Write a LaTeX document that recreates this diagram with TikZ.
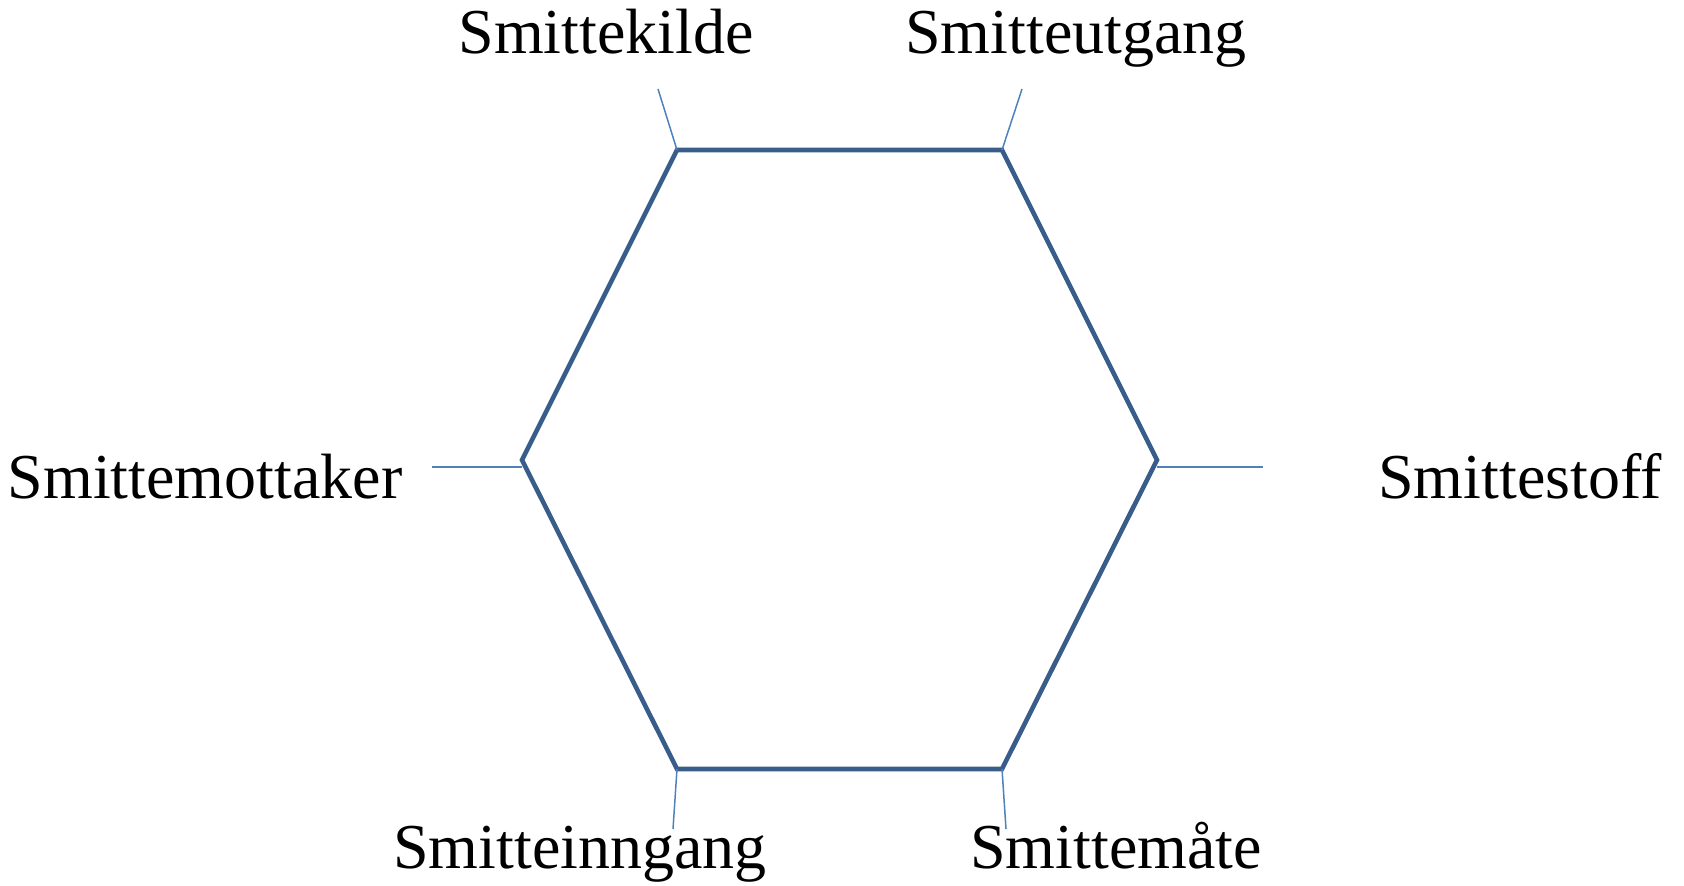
\documentclass[tikz,border=0pt]{standalone}
\usepackage{fontspec}
\setmainfont{Liberation Serif}
\usepackage{xcolor}
\usepackage{tikz}
\usetikzlibrary{
  positioning,
  calc,
}
\definecolor{hexink}{HTML}{385D8A}
\definecolor{leadink}{HTML}{4F81BD}
\definecolor{textink}{HTML}{000000}
\tikzset{
  hexline/.style={draw=hexink, line width=2.3pt, line join=miter},
  leader/.style={draw=leadink, line width=0.75pt},
  stage/.style={font=\fontsize{32}{38}\selectfont, text=textink, anchor=base, inner sep=0pt},
}

\begin{document}
\begin{tikzpicture}[x=0.5pt,y=-0.5pt]
  \useasboundingbox (0,0) rectangle (1684,886);

  % hexagon corners
  \coordinate (tl) at (677,150);
  \coordinate (tr) at (1002,150);
  \coordinate (rr) at (1157,460);
  \coordinate (br) at (1002,769);
  \coordinate (bl) at (677,769);
  \coordinate (ll) at (522,460);
  \draw[hexline] (tl) -- (tr) -- (rr) -- (br) -- (bl) -- (ll) -- cycle;

  % labels
  \node[stage] (kilde)    at (606,54)   {Smittekilde};
  \node[stage] (utgang)   at (1076,54)  {Smitteutgang};
  \node[stage] (mottaker) at (205,499)  {Smittemottaker};
  \node[stage] (stoff)    at (1520,499) {Smittestoff};
  \node[stage] (inngang)  at (580,868)  {Smitteinngang};
  \node[stage] (maate)    at (1116,868) {Smittemåte};

  % leader ends
  \coordinate (kildeEnd)    at (658,89);
  \coordinate (utgangEnd)   at (1022,89);
  \coordinate (mottakerEnd) at (432,467);
  \coordinate (stoffEnd)    at (1263,467);
  \coordinate (inngangEnd)  at (673,829);
  \coordinate (maateEnd)    at (1006,829);

  \draw[leader] (tl) -- (kildeEnd);
  \draw[leader] (tr) -- (utgangEnd);
  \draw[leader] ($(ll)+(0,7)$) -- (mottakerEnd);
  \draw[leader] ($(rr)+(0,7)$) -- (stoffEnd);
  \draw[leader] (bl) -- (inngangEnd);
  \draw[leader] (br) -- (maateEnd);
\end{tikzpicture}
\end{document}
